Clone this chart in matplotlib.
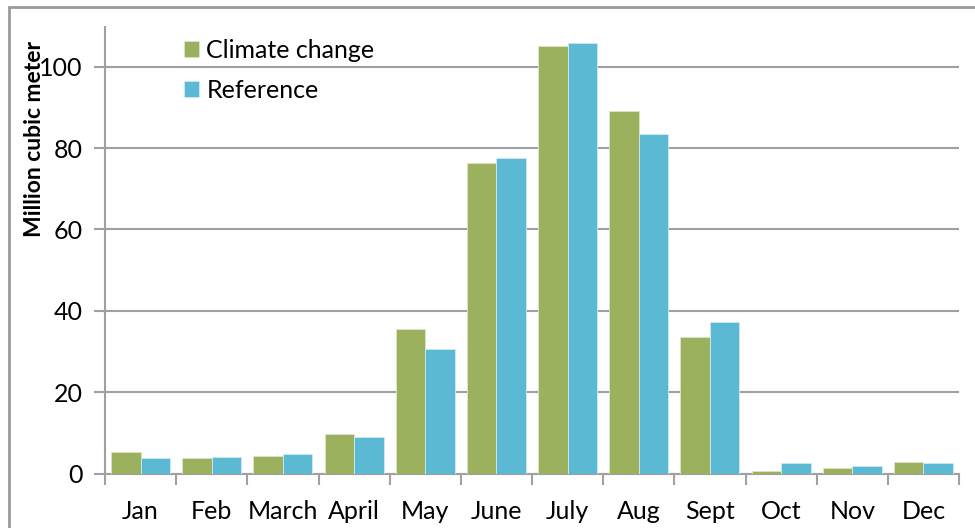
import numpy as np
import matplotlib.pyplot as plt
from matplotlib.patches import Rectangle

months = ["Jan", "Feb", "March", "April", "May", "June",
          "July", "Aug", "Sept", "Oct", "Nov", "Dec"]
climate_change = [5.3, 3.85, 4.5, 9.7, 35.6, 76.3, 105.0, 89.2, 33.6, 0.8, 1.4, 2.9]
reference = [3.85, 4.1, 4.8, 9.1, 30.7, 77.5, 105.8, 83.5, 37.3, 2.7, 1.9, 2.6]

green = "#9BB15E"
blue = "#5BB9D3"
grey = "#A0A0A0"

plt.rcParams['font.family'] = ['Lato', 'DejaVu Sans']

fig = plt.figure(figsize=(9.75, 5.28), dpi=100)
ax = fig.add_axes([0.1077, 0.1023, 0.8759, 0.8466])

# outer chart frame
fig.patches.append(Rectangle((9 / 975, -0.1), 1.2, 1 - 7 / 528 + 0.1,
                             transform=fig.transFigure, fill=False,
                             edgecolor="#9A9A9A", linewidth=2))

x = np.arange(len(months))
w = 0.414
ax.bar(x - w / 2, climate_change, w, color=green, edgecolor="#DCE6C8",
       linewidth=0.6, label="Climate change", zorder=3)
ax.bar(x + w / 2, reference, w, color=blue, edgecolor="#CDEBF3",
       linewidth=0.6, label="Reference", zorder=3)

ax.set_xlim(-0.5, len(months) - 0.5)
ax.set_ylim(0, 109.7)
ax.set_yticks(np.arange(0, 101, 20))
ax.yaxis.grid(True, color=grey, linewidth=1.5, zorder=0)

ax.set_xticks(x)
ax.set_xticklabels(months)
ax.set_xticks(np.arange(-0.5, len(months)), minor=True)
ax.tick_params(axis="x", which="major", length=0, pad=19, labelsize=18)
ax.tick_params(axis="x", which="minor", length=8, width=1.5, color=grey)
ax.tick_params(axis="y", length=8, width=1.5, color=grey, labelsize=18, pad=8)

for side in ["top", "right"]:
    ax.spines[side].set_visible(False)
for side in ["left", "bottom"]:
    ax.spines[side].set_color(grey)
    ax.spines[side].set_linewidth(1.5)

fig.text(35 / 975, 1 - 139 / 528, "Million cubic meter", rotation=90,
         ha="center", va="center", fontsize=16.5, fontweight="bold")

ax.legend(loc="upper left", bbox_to_anchor=(0.072, 1.013), frameon=False,
          fontsize=18, handlelength=0.6, handleheight=0.6,
          handletextpad=0.3, labelspacing=0.68, borderaxespad=0.3)

fig.savefig("out.png", dpi=100)
